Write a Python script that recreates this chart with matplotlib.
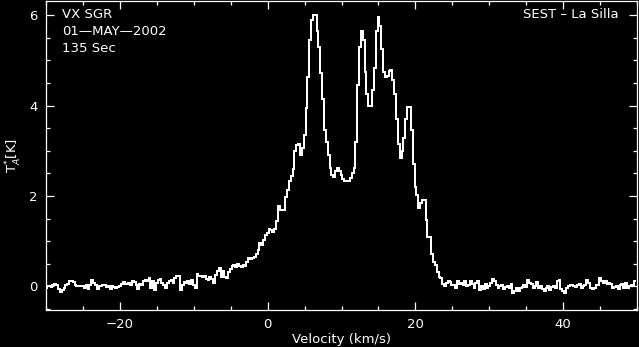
import numpy as np
import matplotlib
matplotlib.use("Agg")
import matplotlib.pyplot as plt
from matplotlib.ticker import MultipleLocator

# spectrum: 0.25 km/s channels starting at -30 km/s
vel_start = -30.0
dv = 0.25

# -30 .. -15.25 km/s
base_left = [
    -0.04, 0.00, 0.00, -0.02, 0.02, 0.05, 0.03, -0.06, -0.12, -0.07,
    -0.04, 0.02, 0.06, 0.11, 0.12, 0.10, 0.02, 0.00, 0.00, 0.00,
    0.01, -0.04, 0.02, -0.05, 0.03, 0.15, 0.07, 0.02, -0.05, 0.00,
    0.01, 0.02, 0.04, -0.02, 0.00, -0.05, 0.00, -0.02, -0.04, -0.02,
    0.00, 0.05, 0.10, 0.06, 0.05, 0.07, 0.02, 0.11, 0.10, 0.04,
    -0.05, 0.05, 0.04, 0.12, 0.15, 0.11, 0.18, -0.04, 0.11, -0.07,
]
# -15 .. -3.25 km/s
wing_blue = [
    0.08, 0.15, 0.16, 0.07, 0.02, -0.04, 0.07, 0.11, 0.14, 0.07,
    0.18, 0.24, 0.22, -0.07, 0.04, 0.09, 0.07, 0.11, 0.06, 0.15,
    0.04, -0.04, 0.28, 0.24, 0.22, 0.21, 0.24, 0.16, 0.13, 0.21,
    0.16, 0.07, 0.26, 0.35, 0.41, 0.21, 0.33, 0.21, 0.18, 0.31,
    0.38, 0.46, 0.48, 0.43, 0.50, 0.46, 0.43, 0.48,
]
# -3 .. 24.75 km/s
line_core = [
    0.44, 0.55, 0.63, 0.60, 0.63, 0.65, 0.72, 0.81, 0.96, 0.92,
    1.02, 1.14, 1.18, 1.27, 1.24, 1.21, 1.28, 1.45, 1.78, 1.68,
    1.68, 1.70, 1.98, 2.13, 2.32, 2.45, 2.60, 3.00, 3.12, 3.16,
    2.90, 3.06, 3.35, 3.95, 4.63, 5.45, 5.90, 6.00, 6.01, 5.65,
    5.30, 4.72, 4.15, 3.45, 3.20, 2.90, 2.62, 2.46, 2.41, 2.56,
    2.61, 2.56, 2.46, 2.38, 2.33, 2.32, 2.32, 2.39, 2.50, 2.62,
    3.20, 4.45, 5.30, 5.66, 5.45, 4.75, 4.25, 3.98, 3.98, 4.35,
    4.82, 5.65, 5.95, 5.75, 5.25, 4.75, 4.63, 4.65, 4.76, 4.79,
    4.56, 4.25, 3.70, 3.15, 2.85, 3.00, 3.28, 3.70, 3.97, 3.96,
    3.45, 2.70, 2.20, 2.02, 1.73, 1.85, 1.91, 1.90, 1.47, 1.09,
    1.09, 0.72, 0.55, 0.48, 0.32, 0.21, 0.18, 0.05, 0.00, 0.07,
    0.12, 0.10,
]
# 25 .. 49.75 km/s
base_right = [
    0.02, 0.02, -0.04, 0.11, 0.05, 0.07, 0.04, 0.11, 0.00, 0.04,
    0.12, 0.05, -0.04, 0.07, 0.12, -0.07, 0.00, -0.05, 0.05, -0.04,
    0.00, 0.07, 0.17, 0.11, 0.04, -0.04, 0.00, 0.02, -0.05, -0.02,
    0.00, -0.04, 0.05, -0.15, -0.11, -0.04, -0.10, -0.04, -0.02, 0.02,
    -0.02, 0.15, 0.07, 0.05, -0.04, 0.00, 0.10, -0.04, 0.00, -0.05,
    -0.10, -0.04, 0.00, -0.07, -0.02, 0.00, -0.04, 0.11, 0.15, -0.05,
    -0.10, -0.15, -0.04, 0.00, 0.02, 0.04, 0.00, -0.02, 0.04, 0.05,
    -0.04, 0.00, 0.02, 0.15, 0.07, -0.04, -0.05, -0.04, 0.02, 0.04,
    0.18, 0.12, 0.07, 0.11, 0.05, 0.07, 0.05, -0.04, -0.02, 0.00,
    -0.05, 0.04, 0.05, -0.04, 0.07, -0.04, 0.00, 0.02, 0.04, 0.11,
]

ta = np.array(base_left + wing_blue + line_core + base_right)
vel = vel_start + dv * np.arange(len(ta))

plt.rcParams["font.family"] = "DejaVu Sans"
fig = plt.figure(figsize=(6.39, 3.47), dpi=100, facecolor="black")
ax = fig.add_axes([0.072, 0.107, 0.925, 0.891], facecolor="black")

ax.step(vel, ta, where="mid", color="white", lw=1.3, antialiased=False)

ax.set_xlim(-30, 50)
ax.set_ylim(-0.52, 6.32)
ax.xaxis.set_major_locator(MultipleLocator(20))
ax.xaxis.set_minor_locator(MultipleLocator(5))
ax.yaxis.set_major_locator(MultipleLocator(2))
ax.yaxis.set_minor_locator(MultipleLocator(0.5))

for s in ax.spines.values():
    s.set_color("white")
    s.set_linewidth(0.9)
ax.tick_params(which="both", direction="in", colors="white", top=True, right=True,
               labelsize=9.5, width=0.9)
ax.tick_params(which="major", length=6, pad=6)
ax.tick_params(which="minor", length=3)

ax.set_xlabel("Velocity (km/s)", color="white", fontsize=9.5, labelpad=1)
ax.set_ylabel(r"T$_A^{*}$[K]", color="white", fontsize=9.5, labelpad=4)

ax.text(0.027, 0.975, "VX SGR\n01\u2014MAY\u20142002\n135 Sec", transform=ax.transAxes,
        color="white", fontsize=9.5, va="top", ha="left", linespacing=1.4)
ax.text(0.968, 0.975, "SEST \u2013 La Silla", transform=ax.transAxes,
        color="white", fontsize=9.5, va="top", ha="right")

fig.savefig("out.png", dpi=100, facecolor="black")
